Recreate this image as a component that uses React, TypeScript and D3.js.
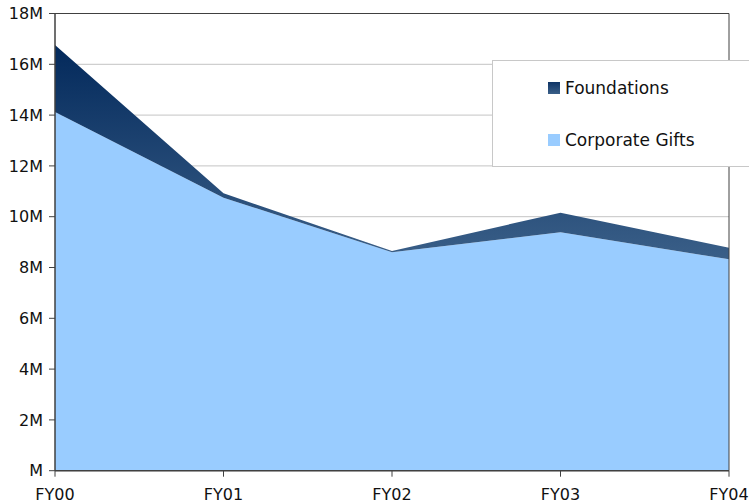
import React from "react";
import * as d3 from "d3";

const years = ["FY00", "FY01", "FY02", "FY03", "FY04"];
const corporateGifts = [14.12, 10.75, 8.6, 9.39, 8.32];
const foundations = [2.64, 0.17, 0.05, 0.77, 0.46];
const yTicks = [0, 2, 4, 6, 8, 10, 12, 14, 16, 18];

const W = 749,
  H = 504;
const margin = { left: 55, right: 20, top: 13.5, bottom: 33.3 };
const font = "'DejaVu Sans', Verdana, sans-serif";

export default function App() {
  const rows = years.map((y, i) => ({
    year: y,
    corporate: corporateGifts[i],
    foundations: foundations[i],
  }));

  const x = d3
    .scalePoint<string>()
    .domain(years)
    .range([margin.left, W - margin.right]);

  const y = d3
    .scaleLinear()
    .domain([0, 18])
    .range([H - margin.bottom, margin.top]);

  const stack = d3.stack<any>().keys(["corporate", "foundations"]);
  const series = stack(rows);

  const area = d3
    .area<any>()
    .x((d) => x(d.data.year) as number)
    .y0((d) => y(d[0]))
    .y1((d) => y(d[1]));

  const x0 = margin.left,
    x1 = W - margin.right,
    yTop = margin.top,
    yBot = H - margin.bottom;
  const axisColor = "#404040";

  return (
    <div style={{ position: "fixed", left: 0, top: 0 }}>
      <svg width={W} height={H} style={{ display: "block", fontFamily: font }}>
        <defs>
          <linearGradient id="fnd" gradientUnits="userSpaceOnUse" x1="0" y1="45" x2="0" y2="260">
            <stop offset="0" stopColor="#03295b" />
            <stop offset="1" stopColor="#3a5f88" />
          </linearGradient>
          <linearGradient id="fndKey" x1="0" y1="0" x2="0" y2="1">
            <stop offset="0" stopColor="#0f3566" />
            <stop offset="1" stopColor="#3a5f88" />
          </linearGradient>
        </defs>
        <rect width={W} height={H} fill="#fff" />

        {/* gridlines */}
        {yTicks.map((t) => (
          <line key={t} x1={x0} x2={x1} y1={y(t)} y2={y(t)} stroke="#c4c4c4" strokeWidth={1} />
        ))}

        {/* areas */}
        <path d={area(series[0] as any) || ""} fill="#99ccff" />
        <path d={area(series[1] as any) || ""} fill="url(#fnd)" />

        {/* frame */}
        <line x1={x0} x2={x1} y1={yTop} y2={yTop} stroke={axisColor} />
        <line x1={x1} x2={x1} y1={yTop} y2={yBot} stroke={axisColor} />
        <line x1={x0} x2={x0} y1={yTop} y2={yBot} stroke={axisColor} strokeWidth={1.5} />
        <line x1={x0} x2={x1} y1={yBot} y2={yBot} stroke={axisColor} strokeWidth={1.5} />

        {/* y ticks */}
        {yTicks.map((t) => (
          <g key={t}>
            <line x1={x0 - 6} x2={x0} y1={y(t)} y2={y(t)} stroke={axisColor} />
            <text x={43} y={y(t)} dy="0.35em" textAnchor="end" fontSize={16} fill="#111">
              {t === 0 ? "M" : `${t}M`}
            </text>
          </g>
        ))}

        {/* x ticks */}
        {years.map((yr) => (
          <g key={yr}>
            <line x1={x(yr)} x2={x(yr)} y1={yBot} y2={yBot + 6} stroke={axisColor} />
            <text x={x(yr)} y={500} textAnchor="middle" fontSize={16} fill="#111">
              {yr}
            </text>
          </g>
        ))}

        {/* legend */}
        <rect x={492.5} y={60.5} width={270} height={106} fill="#fff" stroke="#c8c8c8" />
        <rect x={548} y={82} width={12} height={12} fill="url(#fndKey)" />
        <text x={565} y={88} dy="0.35em" fontSize={17} fill="#111">
          Foundations
        </text>
        <rect x={548} y={134} width={12} height={12} fill="#99ccff" />
        <text x={565} y={140} dy="0.35em" fontSize={17} fill="#111">
          Corporate Gifts
        </text>
      </svg>
    </div>
  );
}
